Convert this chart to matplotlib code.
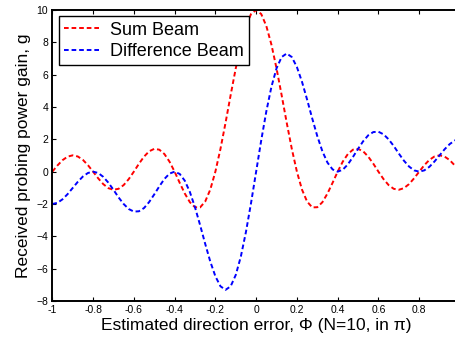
import numpy as np
import matplotlib
matplotlib.use('Agg')
import matplotlib.pyplot as plt

plt.rcParams['font.family'] = ['Liberation Sans', 'DejaVu Sans']

# estimated direction error grid (-1 .. 1, in pi)
phi = np.linspace(-1, 1, 81)

# sum beam gain
sum_beam = [0.00, 0.38, 0.71, 0.93, 1.01, 0.94, 0.73, 0.40, 0.00, -0.41,
            -0.77, -1.02, -1.12, -1.06, -0.83, -0.46, 0.00, 0.49, 0.93, 1.26,
            1.41, 1.36, 1.09, 0.62, 0.00, -0.69, -1.35, -1.89, -2.20, -2.21,
            -1.85, -1.11, 0.00, 1.41, 3.03, 4.74, 6.39, 7.86, 9.01, 9.75,
            10.00,
            9.75, 9.01, 7.86, 6.39, 4.74, 3.03, 1.41, 0.00, -1.11, -1.85,
            -2.21, -2.20, -1.89, -1.35, -0.69, 0.00, 0.62, 1.09, 1.36, 1.41,
            1.26, 0.93, 0.49, 0.00, -0.46, -0.83, -1.06, -1.12, -1.02, -0.77,
            -0.41, 0.00, 0.40, 0.73, 0.94, 1.01, 0.93, 0.71, 0.38, 0.00]

# difference beam gain
diff_beam = [-2.00, -1.93, -1.71, -1.39, -1.01, -0.63, -0.30, -0.08, 0.00, -0.08,
             -0.32, -0.68, -1.12, -1.59, -2.00, -2.31, -2.47, -2.45, -2.25, -1.88,
             -1.41, -0.91, -0.45, -0.12, 0.00, -0.14, -0.56, -1.26, -2.20, -3.30,
             -4.46, -5.56, -6.47, -7.09, -7.31, -7.09, -6.39, -5.25, -3.73, -1.94,
             0.00,
             1.94, 3.73, 5.25, 6.39, 7.09, 7.31, 7.09, 6.47, 5.56, 4.46,
             3.30, 2.20, 1.26, 0.56, 0.14, 0.00, 0.12, 0.45, 0.91, 1.41,
             1.88, 2.25, 2.45, 2.47, 2.31, 2.00, 1.59, 1.12, 0.68, 0.32,
             0.08, 0.00, 0.08, 0.30, 0.63, 1.01, 1.39, 1.71, 1.93, 2.00]

fig = plt.figure(figsize=(4.56, 3.39), dpi=100)
ax = fig.add_axes([0.1147, 0.1121, 0.894, 0.8584])

ax.plot(phi, sum_beam, color='red', lw=1.4, ls=(0, (2.4, 1.5)), label='Sum Beam')
ax.plot(phi, diff_beam, color='blue', lw=1.4, ls=(0, (2.4, 1.5)), label='Difference Beam')

ax.set_xlim(-1, 1)
ax.set_ylim(-8, 10)
# the "1" label falls outside the cropped figure
ax.set_xticks([-1, -0.8, -0.6, -0.4, -0.2, 0, 0.2, 0.4, 0.6, 0.8, 1])
ax.set_xticklabels(['-1', '-0.8', '-0.6', '-0.4', '-0.2', '0', '0.2', '0.4', '0.6', '0.8', ''])
ax.set_yticks(range(-8, 11, 2))
ax.tick_params(direction='in', top=True, right=True, labelsize=7.5, length=3, width=0.8, pad=3)
for s in ax.spines.values():
    s.set_linewidth(1.4)

ax.set_xlabel('Estimated direction error, \u03a6 (N=10, in \u03c0)', fontsize=12.5, labelpad=2)
ax.set_ylabel('Received probing power gain, g', fontsize=12.5, labelpad=4)

leg = ax.legend(loc='upper left', bbox_to_anchor=(0.0164, 0.979), borderaxespad=0,
                fontsize=13, fancybox=False, framealpha=1, edgecolor='black',
                handlelength=2.0, borderpad=0.3, labelspacing=0.25, handletextpad=0.5)
leg.get_frame().set_linewidth(1.0)

plt.savefig('out.png', dpi=100)
